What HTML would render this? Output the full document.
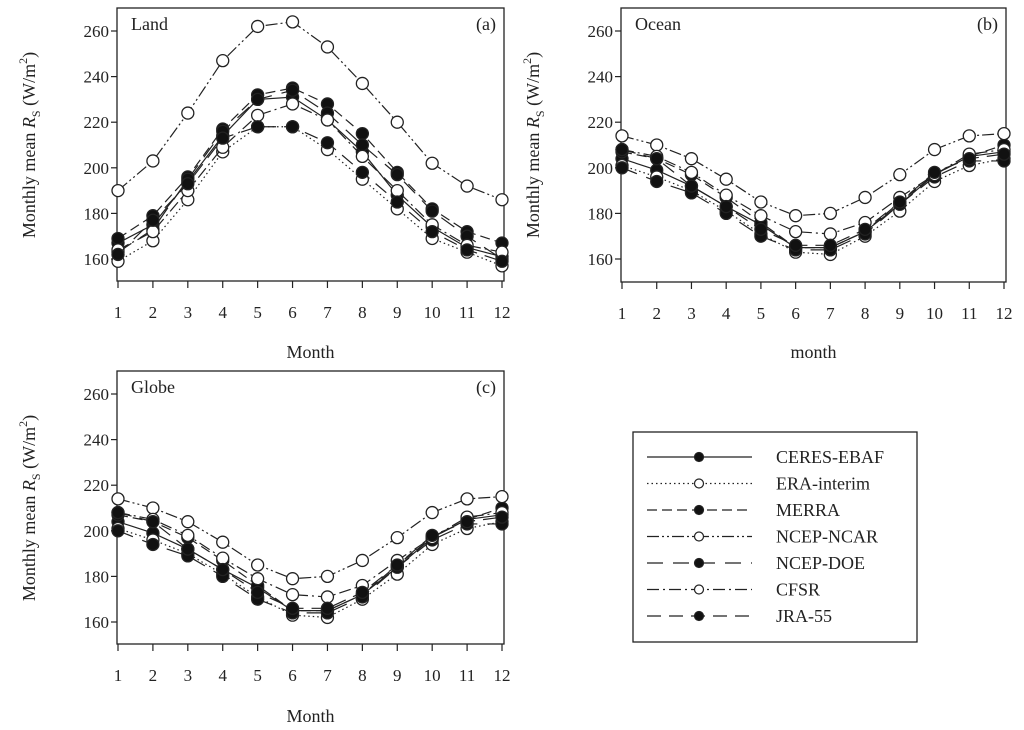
<!DOCTYPE html>
<html><head><meta charset="utf-8"><style>
body{margin:0;background:#fff}
svg{display:block;font-family:"Liberation Serif",serif}
</style></head><body>
<svg id="fig" width="1024" height="730" viewBox="0 0 1024 730"></svg>
<script>
const months=[1,2,3,4,5,6,7,8,9,10,11,12];
const yTicks=[160,180,200,220,240,260];
const seriesNames=["CERES-EBAF","ERA-interim","MERRA","NCEP-NCAR","NCEP-DOE","CFSR","JRA-55"];
const landCERES=[167,175,194,214,230,231,221,207,188,174,165,161];
const landERA=[159,168,186,207,218,218,208,195,182,169,163,157];
const landMERRA=[169,179,196,217,232,235,228,215,198,182,172,167];
const landNCAR=[190,203,224,247,262,264,253,237,220,202,192,186];
const landDOE=[163,173,195,216,230,234,224,210,197,181,170,160];
const landCFSR=[164,172,190,209,223,228,221,205,190,175,166,163];
const landJRA=[162,177,193,213,218,218,211,198,185,172,164,159];
const oceanCERES=[204,199,192,183,175,165,165,172,184,197,205,207];
const oceanERA=[201,196,190,181,171,163,162,170,181,194,201,204];
const oceanMERRA=[207,204,197,187,176,165,165,172,185,197,205,210];
const oceanNCAR=[214,210,204,195,185,179,180,187,197,208,214,215];
const oceanDOE=[200,194,189,180,170,164,164,171,184,196,203,203];
const oceanCFSR=[208,205,198,188,179,172,171,176,187,197,206,208];
const oceanJRA=[208,204,192,183,173,166,166,173,185,198,204,206];
const globeCERES=[204,199,192,183,175,165,165,172,184,197,205,207];
const globeERA=[201,196,190,181,171,163,162,170,181,194,201,204];
const globeMERRA=[207,204,197,187,176,165,165,172,185,197,205,210];
const globeNCAR=[214,210,204,195,185,179,180,187,197,208,214,215];
const globeDOE=[200,194,189,180,170,164,164,171,184,196,203,203];
const globeCFSR=[208,205,198,188,179,172,171,176,187,197,206,208];
const globeJRA=[208,204,192,183,173,166,166,173,185,198,204,206];

const styles=[
 {dash:"",fill:"#111"},
 {dash:"1.5,3",fill:"#fff"},
 {dash:"10,5",fill:"#111"},
 {dash:"12,3,2,3,2,3",fill:"#fff"},
 {dash:"16,10",fill:"#111"},
 {dash:"12,4,2,4",fill:"#fff"},
 {dash:"14,8",fill:"#111"}];
const NS="http://www.w3.org/2000/svg";
const svg=document.getElementById('fig');
function mk(tag,attrs,parent){const e=document.createElementNS(NS,tag);for(const k in attrs)e.setAttribute(k,attrs[k]);(parent||svg).appendChild(e);return e;}

function panel(id,L,R,T,B,y260,y160,title,tag,xlab,xlabY,data){
 const g=mk('g',{});
 
 
 const x0=L+1,x1=R-2;
 const xs=m=>x0+(m-1)*(x1-x0)/11;
 const ys=v=>y160+(v-160)*(y260-y160)/100;
 const box=mk('rect',{x:L,y:T,width:R-L,height:B-T,fill:'none',stroke:'#222','stroke-width':1.3},g);
 
 
 yTicks.forEach(v=>{
  mk('line',{x1:L-6,x2:L,y1:ys(v),y2:ys(v),stroke:'#222','stroke-width':1.2},g);
  const t=mk('text',{x:L-8,y:ys(v)+6,'text-anchor':'end','font-size':17,fill:'#222'},g);t.textContent=v;
  
  
 });
 months.forEach(m=>{
  mk('line',{x1:xs(m),x2:xs(m),y1:B,y2:B+7,stroke:'#222','stroke-width':1.2},g);
  const t=mk('text',{x:xs(m),y:B+37,'text-anchor':'middle','font-size':17,fill:'#222'},g);t.textContent=m;
  
  
 });
 const tt=mk('text',{x:L+14,y:T+22,'font-size':18,fill:'#222'},g);tt.textContent=title;
 
 
 const tg=mk('text',{x:R-8,y:T+22,'text-anchor':'end','font-size':18,fill:'#222'},g);tg.textContent=tag;
 
 
 const xl=mk('text',{x:(L+R)/2,y:xlabY,'text-anchor':'middle','font-size':18,fill:'#222'},g);xl.textContent=xlab;
 
 
 const cy=(ys(260)+ys(160))/2, cx=L-82;
 const yl=mk('text',{x:cx,y:cy,transform:`rotate(-90 ${cx} ${cy})`,'text-anchor':'middle','font-size':18,fill:'#222'},g);
 yl.innerHTML='Monthly mean <tspan font-style="italic">R</tspan><tspan font-size="12" dy="5">S</tspan><tspan dy="-5"> (W/m</tspan><tspan font-size="12" dy="-8">2</tspan><tspan dy="8">)</tspan>';
 
 
 data.forEach((arr,i)=>{
  const s=styles[i];
  const p=mk('polyline',{points:arr.map((v,j)=>xs(months[j])+','+ys(v)).join(' '),fill:'none',stroke:'#222','stroke-width':1.2,'stroke-dasharray':s.dash},g);
  
  
  arr.forEach((v,j)=>{
   const c=mk('circle',{cx:xs(months[j]),cy:ys(v),r:6,fill:s.fill,stroke:'#222','stroke-width':1.3},g);
   
   
  });
 });
}
panel('land',117,504,8,281,31,259,'Land','(a)','Month',358,[landCERES,landERA,landMERRA,landNCAR,landDOE,landCFSR,landJRA]);
panel('ocean',621,1006,8,282,31,259,'Ocean','(b)','month',358,[oceanCERES,oceanERA,oceanMERRA,oceanNCAR,oceanDOE,oceanCFSR,oceanJRA]);
panel('globe',117,504,371,644,394,622,'Globe','(c)','Month',722,[globeCERES,globeERA,globeMERRA,globeNCAR,globeDOE,globeCFSR,globeJRA]);

const lg=mk('g',{});


mk('rect',{x:633,y:432,width:284,height:210,fill:'#fff',stroke:'#222','stroke-width':1.3},lg);
seriesNames.forEach((n,i)=>{
 const y=457+i*26.5, s=styles[i];
 const e=mk('g',{},lg);
 
 
 mk('line',{x1:647,x2:752,y1:y,y2:y,stroke:'#222','stroke-width':1.2,'stroke-dasharray':s.dash},e);
 mk('circle',{cx:699,cy:y,r:4.5,fill:s.fill,stroke:'#222','stroke-width':1.2},e);
 const t=mk('text',{x:776,y:y+6,'font-size':18,fill:'#222'},e);t.textContent=n;
});
</script>
</body></html>
